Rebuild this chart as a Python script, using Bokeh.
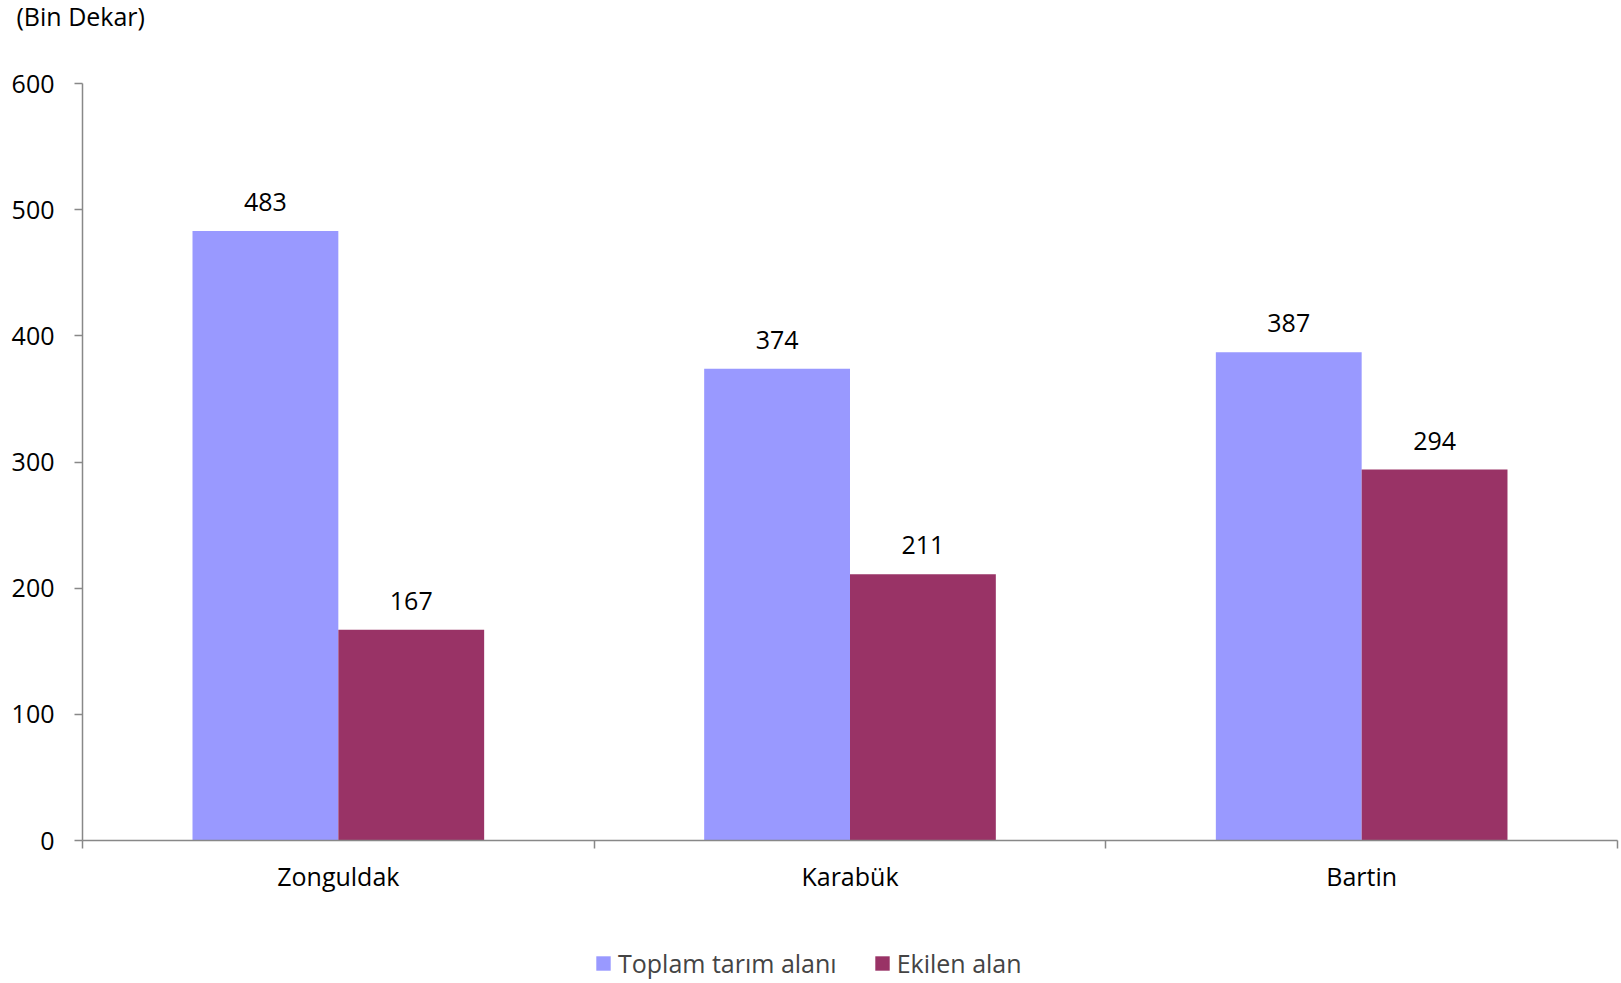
from bokeh.plotting import figure
from bokeh.models import (ColumnDataSource, FixedTicker, Legend, LegendItem,
                          LabelSet, Label, Range1d)
from bokeh.core.properties import value
from bokeh.embed import file_html
from bokeh.resources import INLINE

cities = ["Zonguldak", "Karabük", "Bartin"]
toplam = [483, 374, 387]
ekilen = [167, 211, 294]
series_names = ["Toplam tarım alanı", "Ekilen alan"]
y_ticks = [0, 100, 200, 300, 400, 500, 600]
unit_label = "(Bin Dekar)"

FONT = "Open Sans"
FS = "25px"
AXIS_COLOR = "#888888"
C1 = "#9999FF"
C2 = "#993366"

# page geometry (pixels)
W, H = 1620, 982
PLOT_L, PLOT_R = 82, 1617      # x pixel of category start / end
PLOT_T, PLOT_B = 83, 840       # y pixel of top tick / zero line

n = len(cities)
ppx = (PLOT_R - PLOT_L) / n
ppy = (PLOT_B - PLOT_T) / (y_ticks[-1] - y_ticks[0])
x_range = Range1d(-PLOT_L / ppx, n + (W - PLOT_R) / ppx)
y_range = Range1d(y_ticks[0] - (H - PLOT_B) / ppy, y_ticks[-1] + PLOT_T / ppy)

centers = [i + 0.5 for i in range(n)]
bw = 0.285
src1 = ColumnDataSource(dict(x=[c - bw / 2 for c in centers], top=toplam,
                             label=[str(v) for v in toplam]))
src2 = ColumnDataSource(dict(x=[c + bw / 2 for c in centers], top=ekilen,
                             label=[str(v) for v in ekilen]))

p = figure(width=W, height=H, x_range=x_range, y_range=y_range,
           output_backend="svg", toolbar_location=None,
           min_border=0, min_border_left=0, min_border_right=0,
           min_border_top=0, min_border_bottom=0)
p.outline_line_color = None
p.grid.visible = False
p.background_fill_color = "white"
p.border_fill_color = "white"

r1 = p.vbar(x="x", top="top", bottom=0, width=bw, source=src1,
            fill_color=C1, line_color=None)
r2 = p.vbar(x="x", top="top", bottom=0, width=bw, source=src2,
            fill_color=C2, line_color=None)

for src in (src1, src2):
    p.add_layout(LabelSet(x="x", y="top", text="label", source=src,
                          text_align="center", text_baseline="alphabetic",
                          y_offset=20, text_font=value(FONT),
                          text_font_size=value(FS), text_color="black"))

# x axis: labels at category centres, tick marks at category boundaries
xa = p.xaxis[0]
xa.fixed_location = 0
xa.bounds = (0, n)
xa.ticker = FixedTicker(ticks=centers, minor_ticks=list(range(n + 1)))
xa.major_label_overrides = {c: name for c, name in zip(centers, cities)}
xa.major_tick_in = 0
xa.major_tick_out = 0
xa.minor_tick_in = 0
xa.minor_tick_out = 8
xa.minor_tick_line_color = AXIS_COLOR
xa.minor_tick_line_width = 1.5
xa.axis_line_color = AXIS_COLOR
xa.axis_line_width = 1.5
xa.major_label_text_font = FONT
xa.major_label_text_font_size = FS
xa.major_label_text_color = "black"
xa.major_label_standoff = 10

ya = p.yaxis[0]
ya.fixed_location = 0
ya.bounds = (y_ticks[0], y_ticks[-1])
ya.ticker = FixedTicker(ticks=y_ticks)
ya.major_tick_in = 0
ya.major_tick_out = 8
ya.minor_tick_out = 0
ya.minor_tick_in = 0
ya.major_tick_line_color = AXIS_COLOR
ya.major_tick_line_width = 1.5
ya.axis_line_color = AXIS_COLOR
ya.axis_line_width = 1.5
ya.major_label_text_font = FONT
ya.major_label_text_font_size = FS
ya.major_label_text_color = "black"
ya.major_label_standoff = 20

legend = Legend(items=[LegendItem(label=series_names[0], renderers=[r1]),
                       LegendItem(label=series_names[1], renderers=[r2])],
                orientation="horizontal", location=(594, 2),
                glyph_width=18, glyph_height=18, label_standoff=6, spacing=36,
                label_text_font=FONT, label_text_font_size=FS,
                border_line_color=None, background_fill_alpha=0,
                margin=0, padding=0)
p.add_layout(legend)

p.add_layout(Label(x=16, y=H - 15, x_units="screen", y_units="screen",
                   text=unit_label, text_font=FONT, text_font_size=FS,
                   text_baseline="middle", text_align="left", text_color="black"))

open("out.html", "w").write(file_html(p, INLINE))
